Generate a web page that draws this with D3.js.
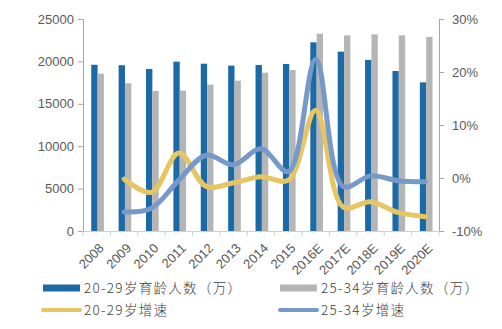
<!DOCTYPE html>
<html>
<head>
<meta charset="utf-8">
<script src="https://cdn.jsdelivr.net/npm/d3@7"></script>
<style>
  html, body { margin: 0; padding: 0; background: #fff; }
  svg { display: block; }
  .tick text { font-family: "Liberation Sans", Arial, sans-serif; fill: #595959; }
  .legend text { font-family: "Noto Sans CJK SC", sans-serif; fill: #404040; }
</style>
</head>
<body>
<svg id="chart" width="502" height="329"></svg>
<script>
// Categories and series
const years = ["2008","2009","2010","2011","2012","2013","2014","2015","2016E","2017E","2018E","2019E","2020E"];
const pop2029 = [19600, 19550, 19100, 19970, 19730, 19500, 19580, 19690, 22250, 21150, 20170, 18870, 17530];
const pop2534 = [18550, 17420, 16510, 16550, 17260, 17730, 18670, 18990, 23270, 23070, 23190, 23070, 22880];
// Growth rates (%), first year has no growth value
const growth2029 = [null, -0.2, -2.7, 4.7, -1.6, -0.9, 0.25, -0.4, 12.8, -5.5, -4.5, -6.5, -7.3];
const growth2534 = [null, -6.4, -5.7, -0.4, 4.3, 2.5, 5.5, 1.2, 22.4, -1.6, 0.4, -0.5, -0.7];
const leftTicks = [0, 5000, 10000, 15000, 20000, 25000];
const rightTicks = [-10, 0, 10, 20, 30];
const legendLabels = ["20-29岁育龄人数（万）", "25-34岁育龄人数（万）", "20-29岁增速", "25-34岁增速"];

const colors = { bar1: "#1b69a5", bar2: "#b5b5b5", line1: "#e5c663", line2: "#7799c9" };

const svg = d3.select("#chart");
const plot = { left: 83, right: 439, top: 19, bottom: 231 };

const x0 = d3.scaleBand().domain(years).range([plot.left, plot.right]).padding(0);
const x1 = d3.scaleBand().domain(["a", "b"]).range([0, x0.bandwidth()])
  .paddingInner(0).paddingOuter(1.16).align(0.56);
const yL = d3.scaleLinear().domain([0, 25000]).range([plot.bottom, plot.top]);
const yR = d3.scaleLinear().domain([-10, 30]).range([plot.bottom, plot.top]);

// Bars
const g = svg.append("g");
g.selectAll("rect.b1").data(years).join("rect")
  .attr("x", (d) => x0(d) + x1("a"))
  .attr("y", (d, i) => yL(pop2029[i]))
  .attr("width", x1.bandwidth())
  .attr("height", (d, i) => yL(0) - yL(pop2029[i]))
  .attr("fill", colors.bar1);
g.selectAll("rect.b2").data(years).join("rect")
  .attr("x", (d) => x0(d) + x1("b"))
  .attr("y", (d, i) => yL(pop2534[i]))
  .attr("width", x1.bandwidth())
  .attr("height", (d, i) => yL(0) - yL(pop2534[i]))
  .attr("fill", colors.bar2);

// Axes
const axisColor = "#a6a6a6";
const leftAxis = svg.append("g").attr("transform", `translate(${plot.left},0)`)
  .call(d3.axisLeft(yL).tickValues(leftTicks).tickSize(5).tickPadding(4).tickFormat(d3.format("d")));
const rightAxis = svg.append("g").attr("transform", `translate(${plot.right},0)`)
  .call(d3.axisRight(yR).tickValues(rightTicks).tickSize(5).tickPadding(8).tickFormat((d) => d + "%"));
const bottomAxis = svg.append("g").attr("transform", `translate(0,${plot.bottom})`)
  .call(d3.axisBottom(x0).tickSize(0).tickPadding(6));

[leftAxis, rightAxis].forEach((a) => {
  a.select(".domain").attr("stroke", axisColor);
  a.selectAll(".tick line").attr("stroke", axisColor);
  a.selectAll(".tick text").attr("font-size", 13);
});
bottomAxis.select(".domain").attr("stroke", "#d0d0d0");
// Category boundary ticks
bottomAxis.selectAll("line.bound").data(years.concat(["end"])).join("line")
  .attr("class", "bound")
  .attr("x1", (d, i) => plot.left + i * x0.step())
  .attr("x2", (d, i) => plot.left + i * x0.step())
  .attr("y1", 0).attr("y2", 5)
  .attr("stroke", "#d0d0d0");
bottomAxis.selectAll(".tick text")
  .attr("font-size", 13)
  .attr("text-anchor", "end")
  .attr("dy", null)
  .attr("transform", "translate(8,18) rotate(-45)")
  .attr("y", 0).attr("x", 0);

// Growth lines
const cx = (i) => x0(years[i]) + x0.bandwidth() / 2;
const line = d3.line()
  .defined((d) => d != null)
  .x((d, i) => cx(i))
  .y((d) => yR(d))
  .curve(d3.curveCatmullRom.alpha(0.5));
svg.append("path").datum(growth2029)
  .attr("d", line).attr("fill", "none")
  .attr("stroke", colors.line1).attr("stroke-width", 5).attr("stroke-linecap", "round");
svg.append("path").datum(growth2534)
  .attr("d", line).attr("fill", "none")
  .attr("stroke", colors.line2).attr("stroke-width", 5).attr("stroke-linecap", "round");

// Legend
const legend = svg.append("g").attr("class", "legend");
const items = [
  { x: 43, y: 288, type: "rect", color: colors.bar1, label: legendLabels[0] },
  { x: 280, y: 288, type: "rect", color: colors.bar2, label: legendLabels[1] },
  { x: 43, y: 310, type: "line", color: colors.line1, label: legendLabels[2] },
  { x: 280, y: 310, type: "line", color: colors.line2, label: legendLabels[3] }
];
items.forEach((it) => {
  if (it.type === "rect") {
    legend.append("rect").attr("x", it.x).attr("y", it.y - 3.5)
      .attr("width", 37).attr("height", 7).attr("fill", it.color);
  } else {
    legend.append("line").attr("x1", it.x).attr("x2", it.x + 37)
      .attr("y1", it.y).attr("y2", it.y)
      .attr("stroke", it.color).attr("stroke-width", 4).attr("stroke-linecap", "round");
  }
  legend.append("text").attr("x", it.x + 41).attr("y", it.y)
    .attr("dy", "0.35em").attr("font-size", 13.5).attr("letter-spacing", "1.3px")
    .attr("font-weight", 300)
    .text(it.label);
});
</script>
</body>
</html>
